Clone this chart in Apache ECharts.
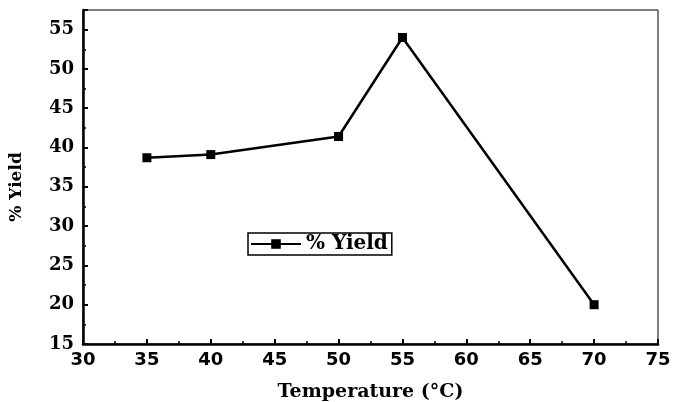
<!DOCTYPE html>
<html>
<head>
<meta charset="utf-8">
<script src="https://cdn.jsdelivr.net/npm/echarts@6/dist/echarts.min.js"></script>
<style>html,body{margin:0;padding:0;background:#fff}#c{width:673px;height:402px}</style>
</head>
<body>
<div id="c"></div>
<script>
var temperature = [35, 40, 50, 55, 70];
var yieldPct = [38.7, 39.1, 41.4, 54.0, 20.0];
var seriesName = '% Yield';
var xTitle = 'Temperature (\u00B0C)';
var yTitle = '% Yield';

var chart = echarts.init(document.getElementById('c'));
var pts = temperature.map(function (t, i) { return [t, yieldPct[i]]; });
var serif = '"DejaVu Serif", "Liberation Serif", serif';
var sans = '"DejaVu Sans", "Liberation Sans", sans-serif';
chart.setOption({
  backgroundColor: '#fff',
  animation: false,
  grid: { left: 83, right: 15, top: 10, bottom: 58, show: true, borderColor: '#000', borderWidth: 1,
          containLabel: false, outerBoundsMode: 'none' },
  xAxis: {
    type: 'value', min: 30, max: 75, interval: 5,
    name: xTitle, nameLocation: 'middle', nameGap: 39,
    nameTextStyle: { fontFamily: serif, fontWeight: 'bold', fontSize: 19, color: '#000' },
    axisLine: { show: true, onZero: false, lineStyle: { color: '#000', width: 2.5 } },
    axisTick: { show: true, inside: true, length: 5, lineStyle: { color: '#000', width: 2 } },
    minorTick: { show: true, splitNumber: 2, length: 3, lineStyle: { color: '#000', width: 1.5 } },
    axisLabel: { fontFamily: sans, fontWeight: 'bold', fontSize: 18, color: '#000', margin: 7 },
    splitLine: { show: false }
  },
  yAxis: {
    type: 'value', min: 15, max: 57.5, interval: 5,
    name: yTitle, nameLocation: 'middle', nameGap: 58,
    nameTextStyle: { fontFamily: serif, fontWeight: 'bold', fontSize: 17, color: '#000', padding: [0, 0, 0, -20] },
    axisLine: { show: true, onZero: false, lineStyle: { color: '#000', width: 2.5 } },
    axisTick: { show: true, inside: true, length: 5, lineStyle: { color: '#000', width: 2 } },
    minorTick: { show: true, splitNumber: 2, length: 3, lineStyle: { color: '#000', width: 1.5 } },
    axisLabel: { fontFamily: serif, fontWeight: 'bold', fontSize: 18, color: '#000', margin: 9,
      formatter: function (v) { return v > 57 ? '' : v; } },
    splitLine: { show: false }
  },
  legend: {
    left: 248, top: 233,
    data: [seriesName],
    borderColor: '#000', borderWidth: 1.5, padding: [1, 4, 1, 2],
    itemWidth: 50, itemHeight: 12, itemGap: 8,
    textStyle: { fontFamily: serif, fontWeight: 'bold', fontSize: 20, color: '#000' }
  },
  series: [{
    name: seriesName, type: 'line', data: pts,
    symbol: 'rect', symbolSize: 9,
    lineStyle: { color: '#000', width: 2.5 },
    itemStyle: { color: '#000' }
  }]
});
</script>
</body>
</html>
